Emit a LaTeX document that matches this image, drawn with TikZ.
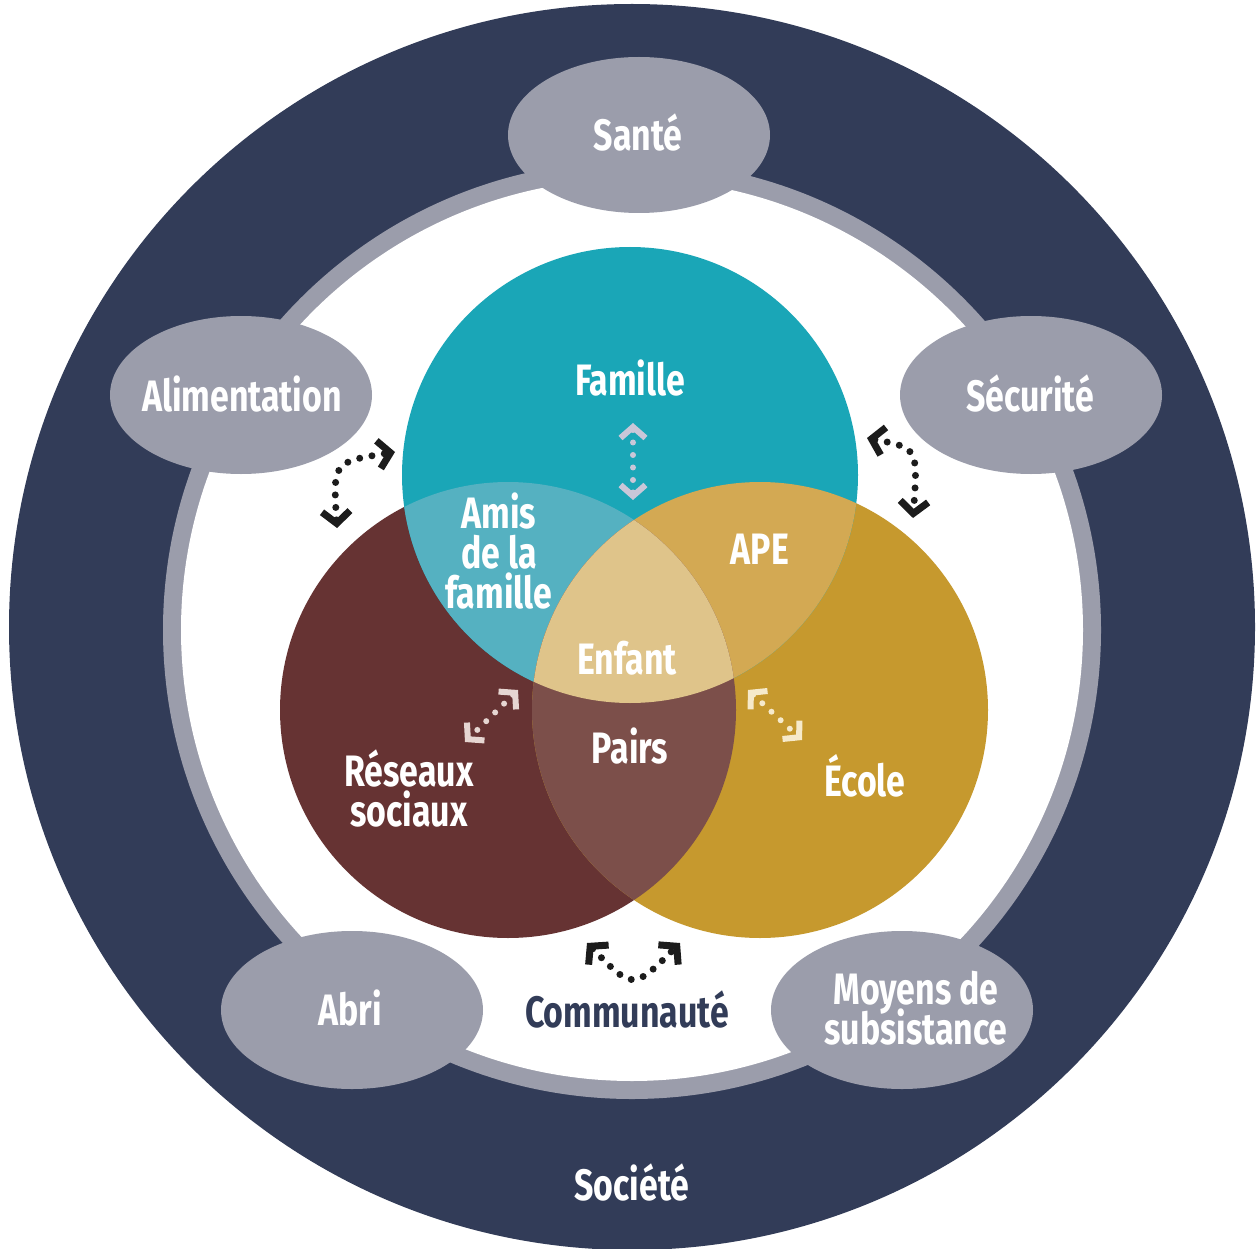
\documentclass[tikz,border=0pt]{standalone}
\usepackage{fontspec}
\setmainfont{Fira Sans}[FakeStretch=0.77]
\usetikzlibrary{arrows.meta}

\definecolor{navy}{HTML}{323C58}
\definecolor{ringgrey}{HTML}{9B9DAB}
\definecolor{teal}{HTML}{1AA6B7}
\definecolor{maroon}{HTML}{663333}
\definecolor{gold}{HTML}{C6992E}
\definecolor{tealmaroon}{HTML}{55B1C1}
\definecolor{tealgold}{HTML}{D3A953}
\definecolor{maroongold}{HTML}{7C4F4A}
\definecolor{core}{HTML}{DFC48A}
\definecolor{arrowdark}{HTML}{1C1C1C}
\definecolor{arrowlilac}{HTML}{C9C7D8}
\definecolor{arrowpink}{HTML}{E6D6D2}
\definecolor{arrowcream}{HTML}{F6EACB}

% label face: bold, large, with fixed line spacing
\newcommand{\labelface}{\bfseries\fontsize{44}{40}\selectfont\lineskiplimit=-100pt\relax}

\tikzset{
  lbl/.style={font=\labelface, text=white, align=center, inner sep=0pt},
  bigchev/.tip={Straight Barb[length=12pt, width=28pt, line width=7pt, sharp]},
  smallchev/.tip={Straight Barb[length=11pt, width=25pt, line width=6pt, sharp]},
  linkdots/.style={line width=#1, line cap=round, dash pattern=on 0pt off 12.5pt},
  outerlink/.style={draw=arrowdark, linkdots=7pt, bigchev-bigchev},
  innerlink/.style={draw=#1, linkdots=6pt, smallchev-smallchev},
}

\begin{document}
\begin{tikzpicture}[x=1pt, y=-1pt]
\useasboundingbox (0,0) rectangle (1258,1249);

% society disc, ring and white community area
\fill[navy] (632,627) circle[radius=623pt];
\fill[ringgrey] (632,630) circle[radius=469pt];
\fill[white] (632,630) circle[radius=451pt];

% basic-needs ellipses on the ring
\fill[ringgrey] (639,135) ellipse[x radius=131pt, y radius=78pt];
\fill[ringgrey] (241,395) ellipse[x radius=131pt, y radius=79pt];
\fill[ringgrey] (1031,395) ellipse[x radius=131pt, y radius=79pt];
\fill[ringgrey] (352,1010) ellipse[x radius=131pt, y radius=79pt];
\fill[ringgrey] (902,1010) ellipse[x radius=131pt, y radius=79pt];

% the three overlapping circles
\def\rad{228pt}
\fill[maroon] (508,710) circle[radius=\rad];
\fill[gold] (760,710) circle[radius=\rad];
\fill[teal] (630,475) circle[radius=\rad];
\begin{scope}
  \clip (630,475) circle[radius=\rad];
  \fill[tealmaroon] (508,710) circle[radius=\rad];
  \fill[tealgold] (760,710) circle[radius=\rad];
\end{scope}
\begin{scope}
  \clip (508,710) circle[radius=\rad];
  \fill[maroongold] (760,710) circle[radius=\rad];
\end{scope}
\begin{scope}
  \clip (630,475) circle[radius=\rad];
  \clip (508,710) circle[radius=\rad];
  \fill[core] (760,710) circle[radius=\rad];
\end{scope}

% labels
\node[lbl] (sante) at (638,133) {Santé};
\node[lbl] (alim) at (242,394) {Alimentation};
\node[lbl] (secu) at (1030,394) {Sécurité};
\node[lbl] (abri) at (350,1008) {Abri};
\node[lbl] (moyens) at (916,1008) {Moyens de\\subsistance};
\node[lbl] (famille) at (630,378) {Famille};
\node[lbl] (amis) at (499,551) {Amis\\de la\\famille};
\node[lbl] (ape) at (760,549) {APE};
\node[lbl] (enfant) at (627,658) {Enfant};
\node[lbl] (pairs) at (630,746) {Pairs};
\node[lbl] (reseaux) at (409,788) {Réseaux\\sociaux};
\node[lbl] (ecole) at (865,776) {École};
\node[lbl, text=navy] (commu) at (627,1009) {Communauté};
\node[lbl] (societe) at (632,1182) {Société};

% two-way links
\coordinate (la1) at (337,528);
\coordinate (la2) at (395,452);
\coordinate (lc1) at (867,438);
\coordinate (lc2) at (913,518);
\coordinate (lb1) at (587,943);
\coordinate (lb2) at (680,943);
\draw[outerlink] (la1) .. controls (333,462) .. (la2);
\draw[outerlink] (lc1) .. controls (918,448) .. (lc2);
\draw[outerlink] (lb1) .. controls (633,990) .. (lb2);

\coordinate (lf1) at (633,423);
\coordinate (lf2) at (633,500);
\coordinate (lr1) at (518,690);
\coordinate (lr2) at (465,742);
\coordinate (le1) at (748,690);
\coordinate (le2) at (802,740);
\draw[innerlink=arrowlilac] (lf1) -- (lf2);
\draw[innerlink=arrowpink] (lr1) -- (lr2);
\draw[innerlink=arrowcream] (le1) -- (le2);
\end{tikzpicture}
\end{document}
